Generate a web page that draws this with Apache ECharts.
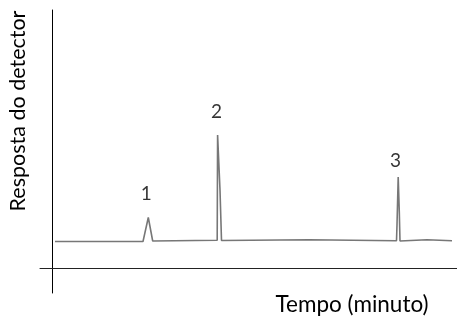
<!DOCTYPE html>
<html>
<head>
<meta charset="utf-8">
<script src="https://cdn.jsdelivr.net/npm/echarts@6/dist/echarts.min.js"></script>
<style>
  html, body { margin: 0; padding: 0; background: #fff; }
  #chart { width: 457px; height: 318px; }
</style>
</head>
<body>
<div id="chart"></div>
<script>
// detector trace (time in minutes, response in arbitrary units)
const traceTime = [0.3, 9.1, 9.63, 10.07, 10.15, 16.52, 16.56, 16.65, 16.8, 16.95,
  25.7, 25.75, 34.45, 34.5, 34.58, 34.62, 34.67, 34.73, 34.8, 34.85, 37.5, 37.55, 40.0];
const traceResp = [2.65, 2.65, 5.05, 2.7, 2.77, 2.77, 13.3, 13.1, 7.8, 2.75,
  2.82, 2.73, 2.73, 4.3, 4.4, 9.1, 9.1, 5.6, 2.7, 2.82, 2.82, 2.73, 2.73];

// peak apexes and their numbers
const peakLabels = ['1', '2', '3'];
const peakTime = [9.63, 16.56, 34.65];
const peakResp = [5.05, 13.3, 9.1];

const labelFont = 'Lato, "Open Sans", sans-serif';
const labelOffsets = [[-2, 0], [-1, 0], [-3, 0]];
const labelDist = [14, 14, 7];

let chart = echarts.init(document.getElementById('chart'), null, { renderer: 'canvas' });

let option = {
  animation: false,
  grid: { left: 40, right: 0, top: 10, bottom: 25 },
  xAxis: {
    type: 'value',
    min: -1.2,
    max: 40.5,
    axisLine: { onZero: true, lineStyle: { color: '#222', width: 1 } },
    axisTick: { show: false },
    axisLabel: { show: false },
    splitLine: { show: false }
  },
  yAxis: {
    type: 'value',
    min: -2.5,
    max: 25.8,
    axisLine: { show: true, onZero: true, lineStyle: { color: '#000', width: 1 } },
    axisTick: { show: false },
    axisLabel: { show: false },
    splitLine: { show: false }
  },
  graphic: [
    {
      type: 'text',
      x: 18, y: 111,
      rotation: Math.PI / 2,
      style: {
        text: 'Resposta do detector',
        font: '21.5px ' + labelFont,
        fill: '#000',
        align: 'center',
        verticalAlign: 'middle'
      }
    },
    {
      type: 'text',
      x: 352, y: 305,
      style: {
        text: 'Tempo (minuto)',
        font: '22.5px ' + labelFont,
        fill: '#000',
        align: 'center',
        verticalAlign: 'middle'
      }
    }
  ],
  series: [
    {
      type: 'line',
      data: traceTime.map((t, i) => [t, traceResp[i]]),
      showSymbol: false,
      lineStyle: { color: '#777', width: 1.6 },
      silent: true
    },
    {
      type: 'scatter',
      symbolSize: 0,
      data: peakLabels.map((name, i) => ({
        value: [peakTime[i], peakResp[i]],
        label: {
          show: true,
          position: 'top',
          formatter: name,
          distance: labelDist[i],
          offset: labelOffsets[i],
          color: '#000',
          fontSize: 19,
          fontFamily: labelFont
        }
      })),
      silent: true
    }
  ]
};

chart.setOption(option);
</script>
</body>
</html>
